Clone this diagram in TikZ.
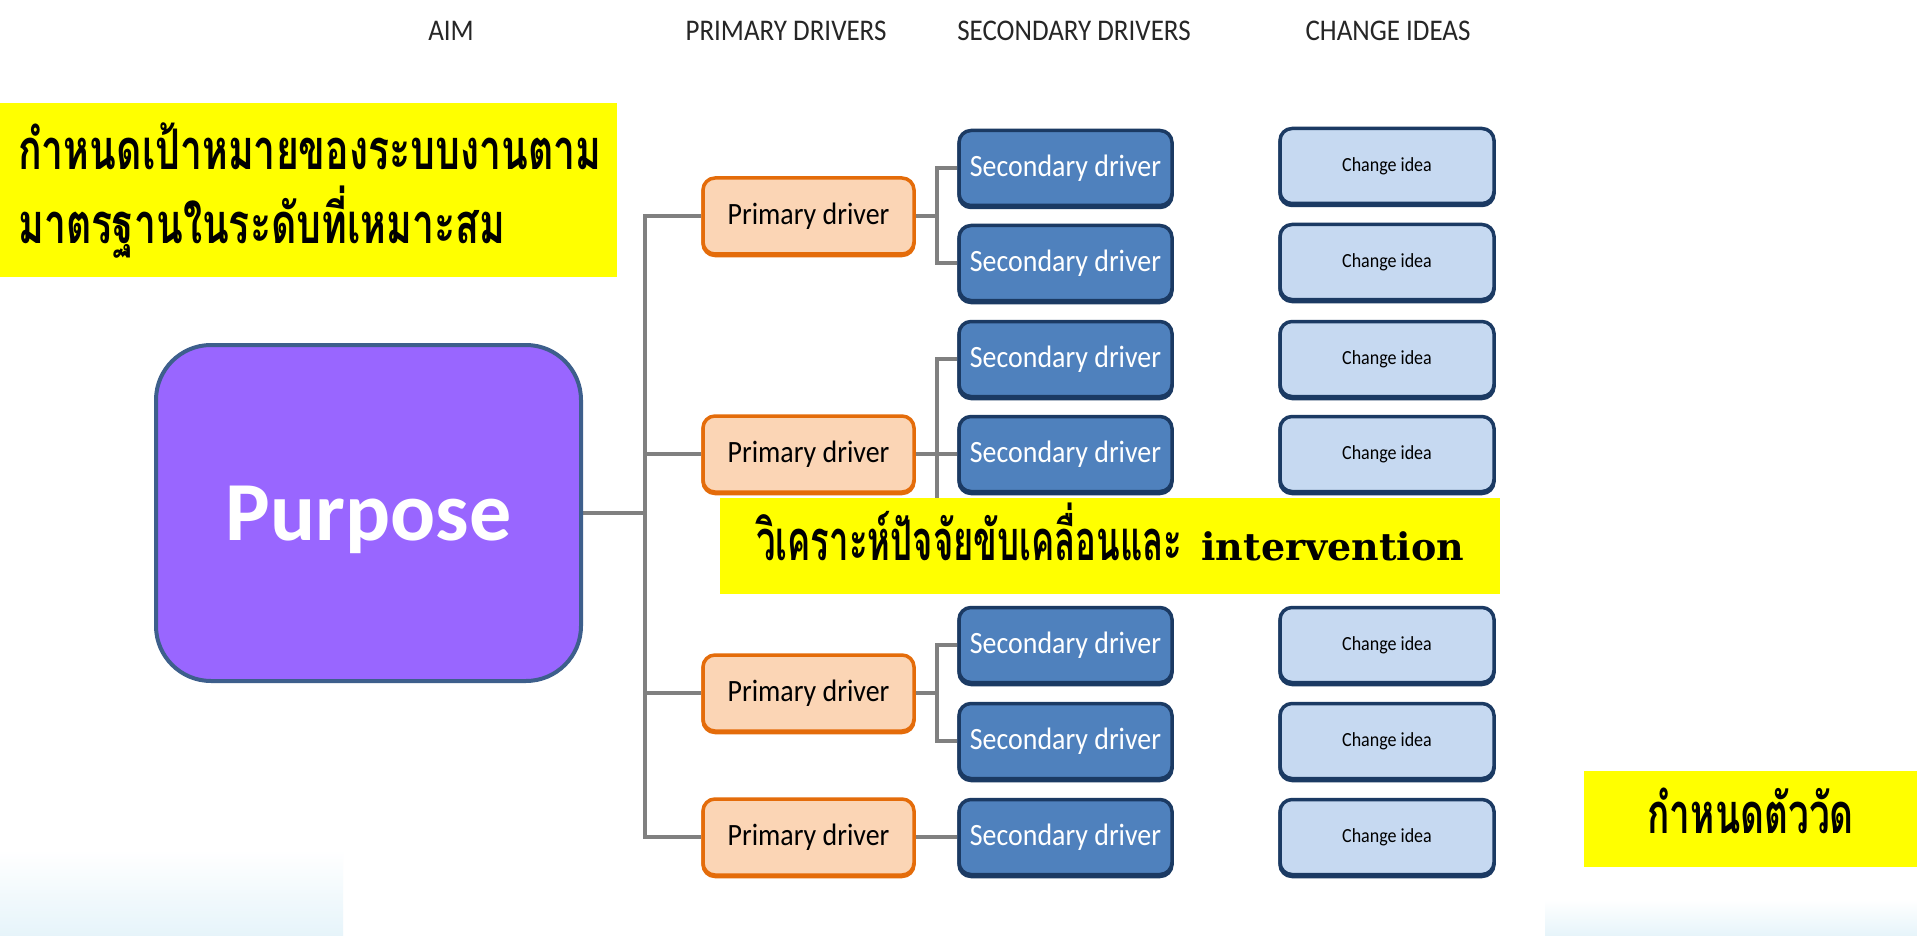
\documentclass[tikz,border=0pt]{standalone}
\usepackage{fontspec}
\setmainfont{Carlito}
\newfontfamily\thaifont[Script=Thai]{Loma}
\newfontfamily\slabfont{DejaVu Serif}
\usetikzlibrary{backgrounds}

\definecolor{purposefill}{HTML}{9966FF}
\definecolor{purposeline}{HTML}{3D5F8C}
\definecolor{pfill}{HTML}{FBD5B5}
\definecolor{pline}{HTML}{E46C0A}
\definecolor{sfill}{HTML}{4F81BD}
\definecolor{sline}{HTML}{1B3A63}
\definecolor{cfill}{HTML}{C6D9F1}
\definecolor{wire}{HTML}{808080}
\definecolor{hl}{HTML}{FFFF00}
\definecolor{haze}{HTML}{E6F4FA}

\tikzset{
  wire/.style={draw=wire, line width=3.5pt},
  header/.style={font=\fontsize{30}{36}\selectfont, text=black!85},
  primarybox/.style={draw=pline, fill=pfill, line width=3.5pt, rounded corners=12pt,
    minimum width=211pt, minimum height=76pt, inner sep=0pt,
    preaction={draw=pline, line width=3.5pt, transform canvas={yshift=-1.5pt}},
    font=\fontsize{31}{36}\selectfont},
  secondbox/.style={draw=sline, fill=sfill, line width=3.5pt, rounded corners=12pt,
    minimum width=213pt, minimum height=75pt, inner sep=0pt, text=white,
    preaction={draw=sline, line width=3.5pt, transform canvas={yshift=-2pt}},
    font=\fontsize{31}{36}\selectfont},
  ideabox/.style={draw=sline, fill=cfill, line width=3.5pt, rounded corners=12pt,
    minimum width=214pt, minimum height=75pt, inner sep=0pt,
    preaction={draw=sline, line width=3.5pt, transform canvas={yshift=-2pt}},
    font=\fontsize{20}{24}\selectfont},
  notebox/.style={fill=hl, inner sep=0pt, font=\thaifont\bfseries\fontsize{56}{74}\selectfont},
}

\newcommand{\nar}[1]{\scalebox{0.9}[1]{#1}}
\newcommand{\thn}[2]{\scalebox{#1}[1]{#2}}

\begin{document}
\begin{tikzpicture}[x=1pt, y=-1pt]
\useasboundingbox (0,0) rectangle (1917,936);

% column headings
\node[header] (hAim) at (451,31) {\nar{AIM}};
\node[header] (hPrim) at (786,31) {\nar{PRIMARY DRIVERS}};
\node[header] (hSec) at (1074,31) {\nar{SECONDARY DRIVERS}};
\node[header] (hIdea) at (1388,31) {\nar{CHANGE IDEAS}};

% aim
\node[draw=purposeline, fill=purposefill, line width=4pt, rounded corners=55pt,
      minimum width=425pt, minimum height=336pt, inner sep=0pt, text=white,
      text height=54pt, text depth=-12pt, font=\bfseries\fontsize{84}{90}\selectfont]
      (purpose) at (368.5,513) {Purpose};

% primary drivers
\node[primarybox] (p1) at (808.5,216) {\nar{Primary driver}};
\node[primarybox] (p2) at (808.5,454) {\nar{Primary driver}};
\node[primarybox] (p3) at (808.5,693) {\nar{Primary driver}};
\node[primarybox] (p4) at (808.5,837) {\nar{Primary driver}};

% secondary drivers
\node[secondbox] (s1) at (1065.5,168) {\nar{Secondary driver}};
\node[secondbox] (s2) at (1065.5,263) {\nar{Secondary driver}};
\node[secondbox] (s3) at (1065.5,359) {\nar{Secondary driver}};
\node[secondbox] (s4) at (1065.5,454) {\nar{Secondary driver}};
\node[secondbox] (s5) at (1065.5,645) {\nar{Secondary driver}};
\node[secondbox] (s6) at (1065.5,741) {\nar{Secondary driver}};
\node[secondbox] (s7) at (1065.5,837) {\nar{Secondary driver}};

% change ideas
\node[ideabox] (c1) at (1387,166) {\nar{Change idea}};
\node[ideabox] (c2) at (1387,262) {\nar{Change idea}};
\node[ideabox] (c3) at (1387,359) {\nar{Change idea}};
\node[ideabox] (c4) at (1387,454) {\nar{Change idea}};
\node[ideabox] (c5) at (1387,645) {\nar{Change idea}};
\node[ideabox] (c6) at (1387,741) {\nar{Change idea}};
\node[ideabox] (c7) at (1387,837) {\nar{Change idea}};

% connector trunks
\coordinate (tk) at (645,0);
\coordinate (bk) at (937,0);
\coordinate (hid) at (957,549);

\begin{scope}[on background layer]
\fill[white] (0,0) rectangle (1917,936);
% faint wash in the lower corners
\shade[top color=white, bottom color=haze] (0,850) rectangle (343,936);
\shade[top color=white, bottom color=haze] (1545,900) rectangle (1917,936);

\draw[wire] (p1.west) -- (p1.west -| tk) |- (p4.west);
\draw[wire] (purpose.east) -- (purpose.east -| tk);
\draw[wire] (p2.west) -- (p2.west -| tk);
\draw[wire] (p3.west) -- (p3.west -| tk);

\draw[wire] (p1.east) -- (p1.east -| bk);
\draw[wire] (s1.west) -- (s1.west -| bk) |- (s2.west);
\draw[wire] (s3.west) -- (s3.west -| bk) -- (bk |- hid);
\draw[wire] (p2.east) -- (s4.west);
\draw[wire] (p3.east) -- (p3.east -| bk);
\draw[wire] (s5.west) -- (s5.west -| bk) |- (s6.west);
\draw[wire] (p4.east) -- (s7.west);
\end{scope}

% highlighted notes
\node[notebox, anchor=north west, minimum width=617pt, minimum height=174pt,
      text width=581pt, align=left, inner xsep=18pt] (goal) at (0,103)
      {\thn{0.70}{กำหนดเป้าหมายของระบบงานตาม}\\\thn{0.70}{มาตรฐานในระดับที่เหมาะสม}};
\node[notebox, anchor=north west, minimum width=780pt, minimum height=96pt,
      text height=28pt, text depth=0pt] (analysis) at (720,498)
      {\thn{0.62}{วิเคราะห์ปัจจัยขับเคลื่อนและ} {\slabfont\bfseries\fontsize{38}{46}\selectfont intervention}};
\node[notebox, anchor=north west, minimum width=333pt, minimum height=96pt,
      text height=28pt, text depth=0pt] (measure) at (1584,771)
      {\thn{0.66}{กำหนดตัววัด}};
\end{tikzpicture}
\end{document}
